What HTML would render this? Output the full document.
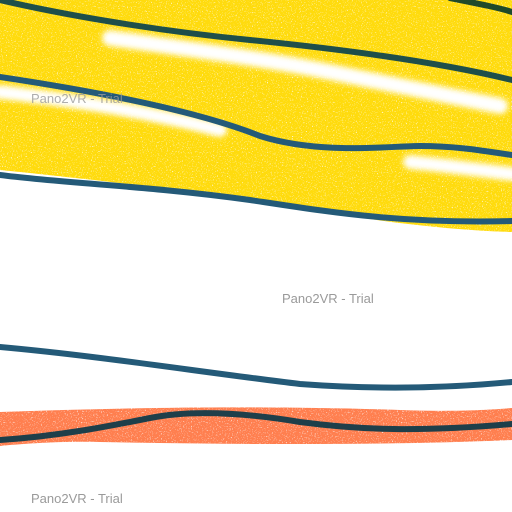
<!DOCTYPE html>
<html><head><meta charset="utf-8"><style>
html,body{margin:0;padding:0;background:#fff;}
svg{display:block;}
</style></head><body>
<svg width="512" height="512" viewBox="0 0 512 512">
<defs>
<filter id="crayon" x="-5%" y="-5%" width="110%" height="110%">
<feTurbulence type="fractalNoise" baseFrequency="0.8" numOctaves="2" seed="3" result="n"/>
<feColorMatrix in="n" type="matrix" values="0 0 0 0 0  0 0 0 0 0  0 0 0 0 0  0 0 0 -4 3.4" result="m"/>
<feComposite in="SourceGraphic" in2="m" operator="in"/>
</filter>
<filter id="soft"><feGaussianBlur stdDeviation="3"/></filter>
</defs>
<g filter="url(#crayon)">
<path d="M0,0 L512,0 L512,232 C450,230 380,222 300,208 C200,192 100,180 0,170 Z" fill="#ffdb10"/>
</g>
<g fill="none" stroke="#fff" stroke-linecap="round" filter="url(#soft)">
<path d="M110,38 C180,48 260,58 330,72 C400,86 450,96 500,106" stroke-width="16"/>
<path d="M0,92 C70,100 140,110 220,130" stroke-width="14"/>
<path d="M410,162 C450,166 480,170 512,174" stroke-width="14"/>
</g>
<g filter="url(#crayon)">
<path d="M0,412 C120,408 250,405 400,410 C450,412 490,410 512,408 L512,440 C400,445 250,445 100,442 C60,441 20,444 0,446 Z" fill="#ff7f50"/>
</g>
<g fill="none" stroke-width="6" stroke-linecap="round">
<path d="M0,0 C60,14 150,30 250,40 C330,48 430,60 512,80" stroke="#1f4f4a"/>
<path d="M450,-2 C480,4 500,8 512,12" stroke="#1f4a2a"/>
<path d="M0,77 C100,92 200,112 260,136 C320,155 390,146 420,146 C460,146 490,152 512,155" stroke="#245a78"/>
<path d="M0,175 C60,183 150,186 250,200 C330,212 400,224 512,221" stroke="#245a78"/>
<path d="M0,347 C100,356 200,372 300,384 C380,390 450,388 512,382" stroke="#245a78"/>
<path d="M0,440 C60,436 110,426 150,418 C190,410 240,412 300,422 C360,430 420,432 512,424" stroke="#1f3f4a"/>
</g>
<g font-family="Liberation Sans, sans-serif" font-size="13" fill="#9a9a9a">
<text x="31" y="103" opacity="0.8">Pano2VR - Trial</text>
<text x="282" y="303">Pano2VR - Trial</text>
<text x="31" y="503">Pano2VR - Trial</text>
</g>
</svg>
</body></html>
